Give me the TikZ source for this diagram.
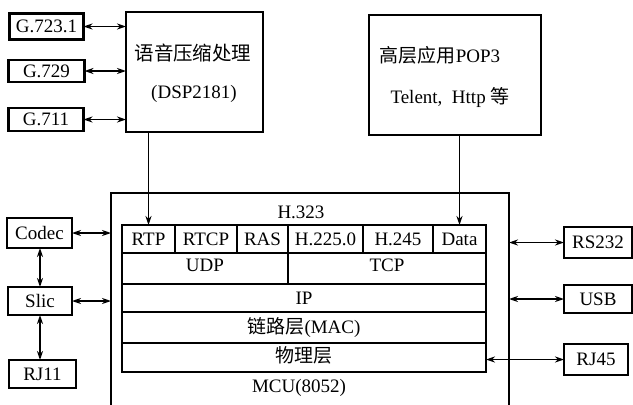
\documentclass[tikz,border=0pt]{standalone}
\usepackage{fontspec}
\setmainfont{Liberation Serif}
\newfontfamily\cjk{Noto Sans CJK SC}
\usetikzlibrary{arrows.meta}
\begin{document}
\begin{tikzpicture}[x=1pt,y=-1pt,
  every node/.style={font=\fontsize{19}{20}\selectfont, inner sep=0pt, outer sep=0pt},
  box/.style={draw, line width=2.2pt, rectangle},
  cell/.style={draw, line width=1.8pt, rectangle},
  arr/.style={line width=1.8pt, {Stealth[length=9pt,width=6pt]}-{Stealth[length=9pt,width=6pt]}},
  darr/.style={line width=1.8pt, -{Stealth[length=9pt,width=6pt]}}]
\useasboundingbox (0,0) rectangle (633,405);
% left codec boxes
\node[box, minimum width=74pt, minimum height=26pt] (g1) at (46.5,26.5) {G.723.1};
\node[box, minimum width=76pt, minimum height=22pt] (g2) at (46.5,71) {G.729};
\node[box, minimum width=75pt, minimum height=23pt] (g3) at (46,119.5) {G.711};
% DSP box
\node[box, minimum width=137pt, minimum height=120pt] (dsp) at (194.5,72) {};
\node (dspt1) at (193,53) {\cjk\fontsize{19.5}{20}\selectfont 语音压缩处理};
\node (dspt2) at (194,94) {(DSP2181)};
% application box
\node[box, minimum width=172pt, minimum height=120pt] (app) at (455,75) {};
\node (appt1) at (440,55) {{\cjk\fontsize{19}{20}\selectfont 高层应用}POP3};
\node (appt2) at (450,97) {Telent,\ \ Http {\cjk\fontsize{19}{20}\selectfont 等}};
% MCU frame (open at the bottom)
\node[minimum width=398pt, minimum height=212pt] (mcu) at (310,299) {};
\draw[line width=2.2pt] (mcu.south west) |- (mcu.north east) -- (mcu.south east);
\node (h323) at (301,212) {H.323};
\node (mcut) at (299,388) {MCU(8052)};
% protocol stack, row 1
\node[cell, minimum width=53pt, minimum height=28pt] (rtp) at (148.5,239) {RTP};
\node[cell, minimum width=62pt, minimum height=28pt] (rtcp) at (206,239) {RTCP};
\node[cell, minimum width=51pt, minimum height=28pt] (ras) at (262.5,239) {RAS};
\node[cell, minimum width=75pt, minimum height=28pt] (h225) at (325.5,239) {H.225.0};
\node[cell, minimum width=70pt, minimum height=28pt] (h245) at (398,239) {H.245};
\node[cell, minimum width=53pt, minimum height=28pt] (data) at (459.5,239) {Data};
% row 2
\node[cell, minimum width=166pt, minimum height=31pt] (udp) at (205,268.5) {};
\node (udpt) at (205,265) {UDP};
\node[cell, minimum width=198pt, minimum height=31pt] (tcp) at (387,268.5) {};
\node (tcpt) at (387,265) {TCP};
% rows 3-5
\node[cell, minimum width=364pt, minimum height=28pt] (ip) at (304,298) {IP};
\node[cell, minimum width=364pt, minimum height=31pt] (mac) at (304,327.5) {{\cjk\fontsize{19}{20}\selectfont 链路层}(MAC)};
\node[cell, minimum width=364pt, minimum height=29pt] (phy) at (304,357.5) {};
\node (phyt) at (304,355) {\cjk\fontsize{19}{20}\selectfont 物理层};
% left peripherals
\node[box, minimum width=65pt, minimum height=30pt] (codec) at (39.5,233) {Codec};
\node[box, minimum width=64pt, minimum height=28pt] (slic) at (40,301) {Slic};
\node[box, minimum width=67pt, minimum height=28pt] (rj11) at (42.5,374) {RJ11};
% right peripherals
\node[box, minimum width=68pt, minimum height=31pt] (rs) at (598,242.5) {RS232};
\node[box, minimum width=68pt, minimum height=28pt] (usb) at (598,299) {USB};
\node[box, minimum width=64pt, minimum height=31pt] (rj45) at (596,359.5) {RJ45};
% connectors
\draw[arr] (g1.east) -- (g1.east -| dsp.west);
\draw[arr] (g2.east) -- (g2.east -| dsp.west);
\draw[arr] (g3.east) -- (g3.east -| dsp.west);
\draw[darr] (dsp.south -| rtp.north) -- (rtp.north);
\draw[darr] (app.south -| data.north) -- (data.north);
\draw[arr] (codec.east) -- (codec.east -| mcu.west);
\draw[arr] (slic.east) -- (slic.east -| mcu.west);
\draw[arr] (codec.south -| slic.north) -- (slic.north);
\draw[arr] (slic.south) -- (slic.south |- rj11.north);
\draw[arr] (mcu.east |- rs.west) -- (rs.west);
\draw[arr] (mcu.east |- usb.west) -- (usb.west);
\draw[arr] (phy.east |- rj45.west) -- (rj45.west);
\end{tikzpicture}
\end{document}
